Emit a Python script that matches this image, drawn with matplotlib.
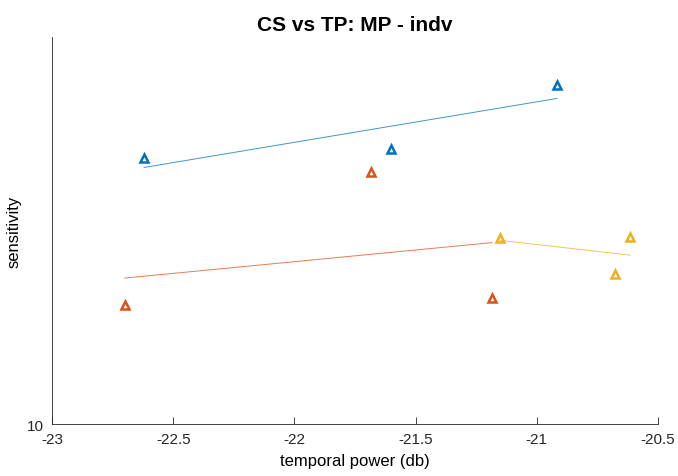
import matplotlib
matplotlib.use("Agg")
import matplotlib.pyplot as plt
import matplotlib.ticker as mticker
import numpy as np

# Data ------------------------------------------------
blue_x = [-22.62, -21.60, -20.917]
blue_y = [25.9, 26.8, 33.7]

orange_x = [-22.70, -21.684, -21.185]
orange_y = [15.3, 24.7, 15.7]

yellow_x = [-21.152, -20.677, -20.615]
yellow_y = [19.47, 17.12, 19.54]

series = [
    (blue_x, blue_y, "#0072BD"),
    (orange_x, orange_y, "#D95319"),
    (yellow_x, yellow_y, "#EDB120"),
]

title = "CS vs TP: MP - indv"
xlabel = "temporal power (db)"
ylabel = "sensitivity"

# Styles ----------------------------------------------
plt.rcParams["font.family"] = ["Liberation Sans", "DejaVu Sans"]

fig = plt.figure(figsize=(6.78, 4.77), dpi=100)
ax = fig.add_axes([0.0767, 0.109, 0.8938, 0.8113])

for xs, ys, col in series:
    xs = np.array(xs)
    ys = np.array(ys)
    # straight fit in log space (log y axis), drawn over the x range
    p = np.polyfit(xs, np.log10(ys), 1)
    xl = np.array([xs.min(), xs.max()])
    ax.plot(xl, 10 ** np.polyval(p, xl), color=col, lw=0.7, alpha=0.75)
    ax.plot(xs, ys, linestyle="none", marker="^", markersize=5.5,
            markerfacecolor="none", markeredgecolor=col, markeredgewidth=1.8)

ax.set_yscale("log")
ax.set_xlim(-23, -20.5)
ax.set_ylim(10, 40)
ax.set_xticks([-23, -22.5, -22, -21.5, -21, -20.5])
ax.xaxis.set_major_formatter(mticker.FuncFormatter(lambda v, pos: "%g" % v))
ax.yaxis.set_major_locator(mticker.FixedLocator([10]))
ax.yaxis.set_major_formatter(mticker.FixedFormatter(["10"]))
ax.yaxis.set_minor_locator(mticker.NullLocator())

for s in ["top", "right"]:
    ax.spines[s].set_visible(False)
for s in ["left", "bottom"]:
    ax.spines[s].set_color("#262626")
    ax.spines[s].set_linewidth(0.6)
ax.tick_params(direction="in", length=5, width=0.6, colors="#262626",
               labelsize=11)
ax.tick_params(axis="x", pad=6)
ax.tick_params(axis="y", length=0, pad=6)

ax.set_title(title, fontsize=15, fontweight="bold", pad=5)
ax.set_xlabel(xlabel, fontsize=12, labelpad=5)
ax.set_ylabel(ylabel, fontsize=12, labelpad=4)

fig.savefig("out.png", dpi=100)
